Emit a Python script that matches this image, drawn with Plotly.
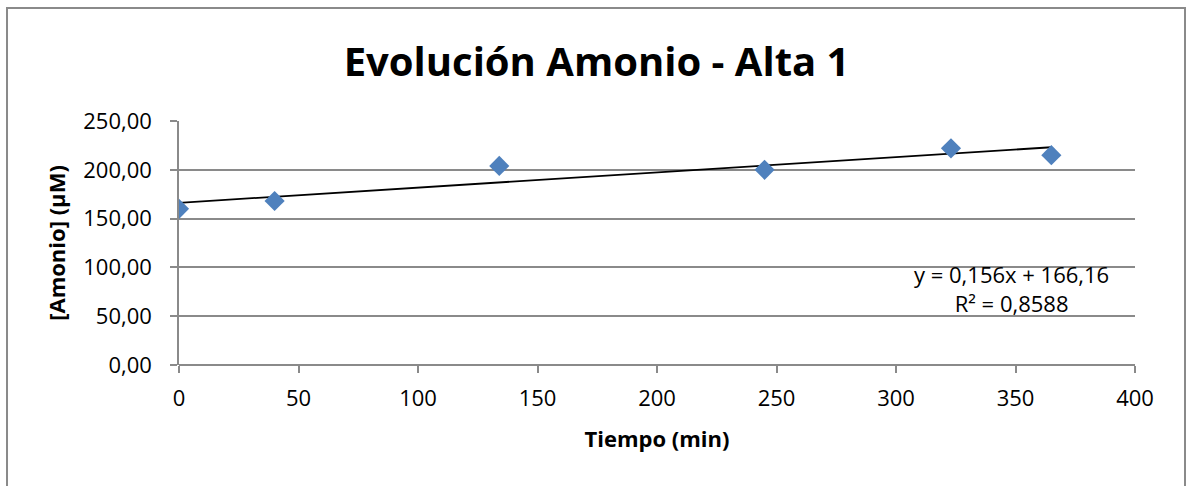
import plotly.graph_objects as go

# Measured ammonium concentration over time
tiempo_min = [0, 40, 134, 245, 323, 365]
amonio_uM = [160, 168, 204, 200, 222, 215]

# Linear fit as reported on the chart
pendiente = 0.156
intercepto = 166.16
r2 = 0.8588

x_ticks = [0, 50, 100, 150, 200, 250, 300, 350, 400]
y_ticks = [0, 50, 100, 150, 200, 250]
y_tick_text = ["0,00", "50,00", "100,00", "150,00", "200,00", "250,00"]

fit_x = [min(tiempo_min), max(tiempo_min)]
fit_y = [intercepto + pendiente * v for v in fit_x]

FONT = "Open Sans"
GRID = "#8a8a8a"


def coma(v):
    return str(v).replace(".", ",")


fig = go.Figure()
fig.add_trace(go.Scatter(
    x=fit_x, y=fit_y, mode="lines",
    line=dict(color="black", width=1.8),
    hoverinfo="skip", showlegend=False,
))
fig.add_trace(go.Scatter(
    x=tiempo_min, y=amonio_uM, mode="markers",
    marker=dict(symbol="diamond", size=15.5, color="#4F81BD",
                line=dict(width=0)),
    showlegend=False,
))

fig.update_layout(
    width=1186, height=486,
    margin=dict(l=179, r=51, t=121, b=121),
    paper_bgcolor="white", plot_bgcolor="white",
    font=dict(family=FONT, color="black"),
    title=dict(
        text="<b>Evolución Amonio - Alta 1</b>",
        x=0.503, xanchor="center", y=0.872, yanchor="middle",
        font=dict(family=FONT, size=40, color="black"),
    ),
    xaxis=dict(
        range=[0, 400], tickvals=x_ticks,
        ticktext=[str(v) for v in x_ticks],
        showgrid=False, zeroline=False,
        showline=False,
        ticks="outside", ticklen=7, tickwidth=1.5, tickcolor=GRID,
        ticklabelstandoff=7,
        tickfont=dict(family=FONT, size=22),
        title=dict(text="<b>Tiempo (min)</b>",
                   font=dict(family=FONT, size=22), standoff=20),
    ),
    yaxis=dict(
        range=[0, 250], tickvals=y_ticks, ticktext=y_tick_text,
        showgrid=True, gridcolor=GRID, gridwidth=1.5,
        zeroline=True, zerolinecolor=GRID, zerolinewidth=1.5,
        showline=True, linecolor=GRID, linewidth=1.5,
        ticks="outside", ticklen=7, tickwidth=1.5, tickcolor=GRID,
        ticklabelstandoff=14,
        tickfont=dict(family=FONT, size=22),
        title=dict(text="<b>[Amonio] (µM)</b>",
                   font=dict(family=FONT, size=22), standoff=12),
    ),
    annotations=[dict(
        x=348.5, y=78, xref="x", yref="y",
        text=f"y = {coma(pendiente)}x + {coma(intercepto)}"
             f"<br>R² = {coma(r2)}",
        showarrow=False, align="center",
        xanchor="center", yanchor="middle",
        font=dict(family=FONT, size=22, color="black"),
    )],
    shapes=[dict(
        type="rect", xref="paper", yref="paper",
        x0=-0.1799, x1=1.0523, y0=-0.53, y1=1.4631,
        line=dict(color=GRID, width=2), layer="below",
    )],
)

fig.write_html("out.html")
